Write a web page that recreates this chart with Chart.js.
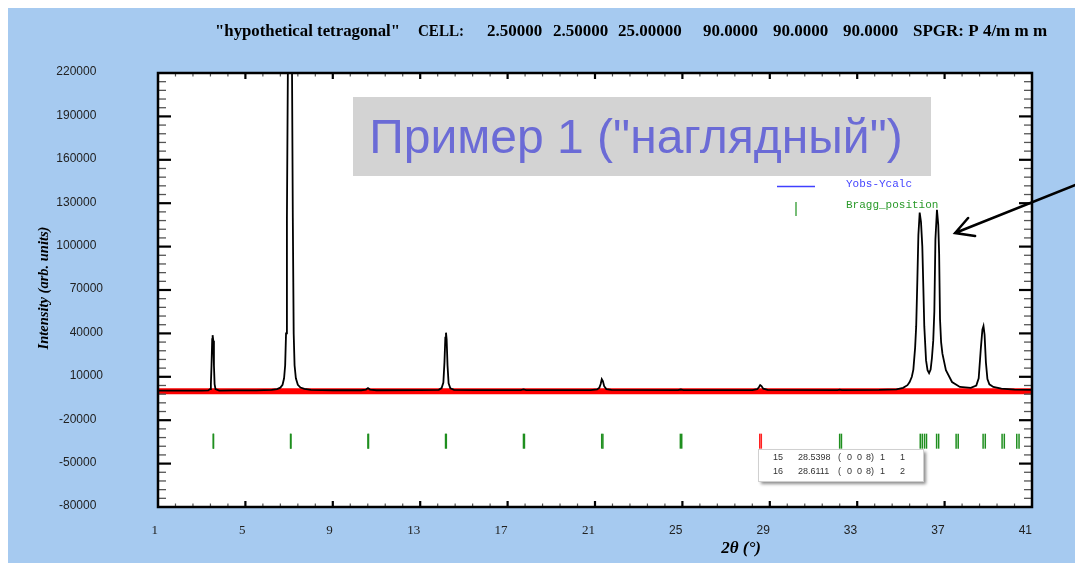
<!doctype html>
<html>
<head>
<meta charset="utf-8">
<title>hypothetical tetragonal</title>
<script src="https://cdn.jsdelivr.net/npm/chart.js@4.4.1/dist/chart.umd.min.js"></script>
<style>
  html, body { margin: 0; padding: 0; background: #fff; }
  #wrap { width: 1075px; height: 563px; position: relative; }
</style>
</head>
<body>
<div id="wrap"><canvas id="canvas"></canvas></div>
<script>
var profileX = [1.0, 2.0, 3.0, 3.30, 3.38, 3.42, 3.45, 3.48, 3.50, 3.53, 3.56, 3.59, 3.63, 3.80,
  4.5, 5.5, 6.2, 6.45, 6.60, 6.70, 6.77, 6.82, 6.86, 6.90, 6.96, 7.04, 7.12, 7.17, 7.21, 7.25, 7.31, 7.40, 7.52, 7.70, 8.0,
  9.0, 10.3, 10.52, 10.61, 10.70, 11.0, 13.0, 13.85, 13.98, 14.06, 14.11, 14.15, 14.18, 14.21, 14.25, 14.30, 14.38, 14.55,
  15.5, 17.6, 17.73, 17.85, 20.8, 21.10, 21.20, 21.26, 21.31, 21.36, 21.42, 21.52, 21.75,
  24.8, 24.93, 25.05, 28.2, 28.42, 28.50, 28.56, 28.62, 28.70, 28.90, 32.1, 32.2, 32.3,
  34.0, 34.8, 35.1, 35.3, 35.40, 35.50, 35.57, 35.65, 35.70, 35.75, 35.80, 35.86, 35.92, 35.98, 36.03, 36.07, 36.15, 36.22,
  36.29, 36.36, 36.42, 36.48, 36.53, 36.58, 36.65, 36.71, 36.75, 36.79, 36.84, 36.90, 37.06, 37.34, 37.70,
  38.20, 38.45, 38.56, 38.66, 38.73, 38.78, 38.83, 38.89, 38.96, 39.05, 39.23, 39.60, 40.20, 41.0];
var profileY = [400, 450, 500, 600, 1500, 5000, 18000, 36000, 38800, 35000, 18000, 5000, 1500, 500,
  550, 600, 900, 1500, 2500, 4500, 9000, 18000, 40000, 120000, 260000, 450000, 260000, 120000, 40000, 18000, 9000, 4500, 2600, 1600, 1000,
  700, 700, 1200, 2200, 1200, 700, 750, 1000, 2200, 6000, 20000, 37000, 40500, 36000, 18000, 5500, 2000, 1000,
  750, 750, 1300, 750, 800, 1300, 2500, 5000, 8300, 7000, 3500, 1500, 900,
  800, 1200, 800, 800, 1400, 2800, 4300, 3600, 1800, 900, 800, 1100, 800,
  900, 1300, 2400, 4200, 6400, 10000, 15000, 30000, 45000, 75000, 108000, 123500, 117000, 100000, 70000, 45000, 21500, 14500,
  12500, 15000, 23000, 35000, 55000, 105000, 125500, 115000, 95000, 50000, 34000, 26000, 14500, 6400, 3000,
  2300, 4000, 9000, 30000, 42500, 45000, 39000, 20000, 8500, 4800, 3000, 1800, 1100, 900];

// Yobs-Ycalc
var diffX = [1, 41];
var diffY = [0, 0];

// Bragg reflections (Ka1 / Ka2)
var braggPos = [3.531, 3.540, 7.066, 7.084, 10.608, 10.635, 14.160, 14.196, 17.726, 17.771,
  21.307, 21.361, 24.906, 24.969, 28.5398, 28.6111, 32.197, 32.279, 35.886, 35.978,
  36.080, 36.172, 36.634, 36.728, 37.527, 37.623, 38.762, 38.862, 39.631, 39.733, 40.303, 40.407];
var braggLevel = -34500;
var selectedBragg = [28.5398, 28.6111];

// selected reflections box: no, 2theta, h, k, l, mult, lambda
var hklRows = [
  ['15', '28.5398', '0', '0', '8', '1', '1'],
  ['16', '28.6111', '0', '0', '8', '1', '2']
];

var xTickValues = [1, 5, 9, 13, 17, 21, 25, 29, 33, 37, 41];
var yTickValues = [-80000, -50000, -20000, 10000, 40000, 70000, 100000, 130000, 160000, 190000, 220000];

var titleParts = [
  ['"hypothetical tetragonal"', 215, 185], ['CELL:', 418, 46], ['2.50000', 487, 57], ['2.50000', 553, 57],
  ['25.00000', 618, 71], ['90.0000', 703, 55], ['90.0000', 773, 56], ['90.0000', 843, 56], ['SPGR: P 4/m m m', 913, 135]
];

var profilePts = profileX.map(function(x, i) { return { x: x, y: profileY[i] }; });
var diffPts = diffX.map(function(x, i) { return { x: x, y: diffY[i] }; });
var braggPts = braggPos.map(function(x) { return { x: x, y: braggLevel }; });

var decor = {
  id: 'decor',
  beforeDraw: function(chart) {
    var c = chart.ctx, a = chart.chartArea;
    c.save();
    c.fillStyle = '#A6CAF0';
    c.fillRect(0, 0, chart.width, chart.height);
    c.fillStyle = '#ffffff';
    c.fillRect(0, 0, chart.width, 8);
    c.fillRect(0, 0, 8, chart.height);
    c.fillRect(a.left, a.top, a.right - a.left, a.bottom - a.top);
    c.restore();
  },
  afterDatasetsDraw: function(chart) {
    var c = chart.ctx, a = chart.chartArea;
    var xs = chart.scales.x, ys = chart.scales.y;
    c.save();
    function ln(x1, y1, x2, y2, w, col) {
      c.beginPath(); c.lineWidth = w; c.strokeStyle = col;
      c.moveTo(x1, y1); c.lineTo(x2, y2); c.stroke();
    }
    var i, p, major;
    // y ticks, inward on left and right
    for (i = 1; i < 50; i++) {
      p = ys.getPixelForValue(-80000 + i * 6000);
      major = i % 5 === 0;
      var yl = major ? 13 : 8, yw = major ? 2.2 : 1.3, yc = major ? '#000' : '#555';
      ln(a.left, p, a.left + yl, p, yw, yc);
      ln(a.right, p, a.right - yl, p, yw, yc);
    }
    // x ticks, inward on bottom and top
    for (i = 1; i < 50; i++) {
      p = xs.getPixelForValue(1 + i * 0.8);
      major = i % 5 === 0;
      var xl = major ? 6 : 3.5, xw = major ? 2.2 : 1.2, xc = major ? '#000' : '#555';
      ln(p, a.bottom, p, a.bottom - xl, xw, xc);
      ln(p, a.top, p, a.top + xl, xw, xc);
    }
    c.lineWidth = 2.5;
    c.strokeStyle = '#000';
    c.strokeRect(a.left, a.top, a.right - a.left, a.bottom - a.top);
    c.restore();
  },
  afterDraw: function(chart) {
    var c = chart.ctx, a = chart.chartArea;
    var xs = chart.scales.x, ys = chart.scales.y;
    c.save();

    // header line
    c.fillStyle = '#000';
    c.font = 'bold 17px "Liberation Serif", serif';
    c.textAlign = 'left';
    c.textBaseline = 'middle';
    titleParts.forEach(function(t) { c.fillText(t[0], t[1], 32, t[2]); });

    // axis titles
    c.font = 'bold italic 17px "Liberation Serif", serif';
    c.textAlign = 'center';
    c.fillText('2\u03b8 (\u00b0)', 741, 549);
    c.save();
    c.translate(44, (a.top + a.bottom) / 2 - 2);
    c.rotate(-Math.PI / 2);
    c.font = 'bold italic 14.5px "Liberation Serif", serif';
    c.fillText('Intensity (arb. units)', 0, 0);
    c.restore();

    // grey caption box
    c.fillStyle = '#D3D3D3';
    c.fillRect(353, 97, 578, 79);
    c.fillStyle = '#6B6BD6';
    c.font = '48px "Liberation Sans", Arial, sans-serif';
    c.textAlign = 'center';
    c.textBaseline = 'alphabetic';
    c.fillText('\u041f\u0440\u0438\u043c\u0435\u0440 1 ("\u043d\u0430\u0433\u043b\u044f\u0434\u043d\u044b\u0439")', 636, 153, 537);

    // legend
    c.lineWidth = 1.3;
    c.strokeStyle = '#4040ff';
    c.beginPath(); c.moveTo(777, 186.5); c.lineTo(815, 186.5); c.stroke();
    c.strokeStyle = '#2e9a2e';
    c.beginPath(); c.moveTo(796, 202); c.lineTo(796, 216); c.stroke();
    c.font = '11px "Liberation Mono", monospace';
    c.textAlign = 'left';
    c.textBaseline = 'middle';
    c.fillStyle = '#4444ff';
    c.fillText('Yobs-Ycalc', 846, 184);
    c.fillStyle = '#2a9a2a';
    c.fillText('Bragg_position', 846, 205.5);

    // reflection info box
    c.save();
    c.shadowColor = 'rgba(0,0,0,0.45)';
    c.shadowOffsetX = 3; c.shadowOffsetY = 3; c.shadowBlur = 3;
    c.fillStyle = '#fff';
    c.fillRect(758, 449, 165, 32);
    c.restore();
    c.strokeStyle = '#d0d0d0'; c.lineWidth = 1;
    c.strokeRect(758.5, 449.5, 165, 32);
    c.fillStyle = '#333';
    c.font = '9px "Liberation Sans", sans-serif';
    hklRows.forEach(function(r, k) {
      var y = 457.5 + k * 14;
      c.fillText(r[0], 773, y);
      c.fillText(r[1], 798, y);
      c.fillText('(', 838, y);
      c.fillText(r[2], 847, y);
      c.fillText(r[3], 857, y);
      c.fillText(r[4] + ')', 866, y);
      c.fillText(r[5], 880, y);
      c.fillText(r[6], 900, y);
    });

    // arrow pointing at the doublet
    var tx = xs.getPixelForValue(37.48), ty = ys.getPixelForValue(109400);
    c.strokeStyle = '#000'; c.lineWidth = 2.5; c.lineCap = 'round';
    c.beginPath();
    c.moveTo(tx + 125, ty - 50); c.lineTo(tx, ty);
    c.moveTo(tx + 13, ty - 15); c.lineTo(tx, ty); c.lineTo(tx + 20, ty + 3);
    c.stroke();
    c.restore();
  }
};

var ctx = document.getElementById('canvas').getContext('2d');
new Chart(ctx, {
  type: 'scatter',
  data: {
    datasets: [{
      label: 'Yobs',
      data: profilePts,
      showLine: true,
      borderColor: '#000',
      borderWidth: 1.8,
      pointRadius: 0,
      order: 0
    }, {
      label: 'Yobs-Ycalc',
      data: diffPts,
      showLine: true,
      borderColor: '#ff0000',
      borderWidth: 6,
      pointRadius: 0,
      order: 1
    }, {
      label: 'Bragg_position',
      data: braggPts,
      showLine: false,
      pointStyle: 'line',
      pointRotation: 90,
      pointRadius: 7.5,
      pointHoverRadius: 7.5,
      pointBorderWidth: 1.5,
      pointBorderColor: function(c) {
        var v = braggPos[c.dataIndex];
        return selectedBragg.indexOf(v) >= 0 ? '#ff2020' : '#1f8f1f';
      },
      order: 2
    }]
  },
  options: {
    responsive: true,
    maintainAspectRatio: false,
    animation: false,
    events: [],
    layout: { padding: { top: 73, right: 43, bottom: 0, left: 0 } },
    plugins: { legend: { display: false }, tooltip: { enabled: false }, title: { display: false } },
    scales: {
      x: {
        type: 'linear',
        min: 1,
        max: 41,
        afterBuildTicks: function(s) { s.ticks = xTickValues.map(function(v) { return { value: v }; }); },
        afterFit: function(s) { s.height = 56; },
        grid: { display: false, drawTicks: false },
        border: { display: false },
        ticks: {
          align: 'end',
          padding: 16,
          maxRotation: 0,
          autoSkip: false,
          color: '#222',
          font: function(c) {
            return c.tick && c.tick.value <= 21
              ? { family: '"Liberation Serif", serif', size: 13 }
              : { family: '"Liberation Sans", sans-serif', size: 12 };
          },
          callback: function(v) { return String(v); }
        }
      },
      y: {
        type: 'linear',
        min: -80000,
        max: 220000,
        afterBuildTicks: function(s) { s.ticks = yTickValues.map(function(v) { return { value: v }; }); },
        // the wide label gap would otherwise be reserved above and below the plot
        afterFit: function(s) { s.width = 158; s.paddingTop = 7; s.paddingBottom = 7; },
        grid: { display: false, drawTicks: false },
        border: { display: false },
        ticks: {
          padding: 55,
          labelOffset: -1,
          color: '#222',
          font: { family: '"Liberation Sans", sans-serif', size: 12 },
          callback: function(v) { var s = String(v); return s.length >= 6 ? s + '  ' : s; }
        }
      }
    }
  },
  plugins: [decor]
});
</script>
</body>
</html>
